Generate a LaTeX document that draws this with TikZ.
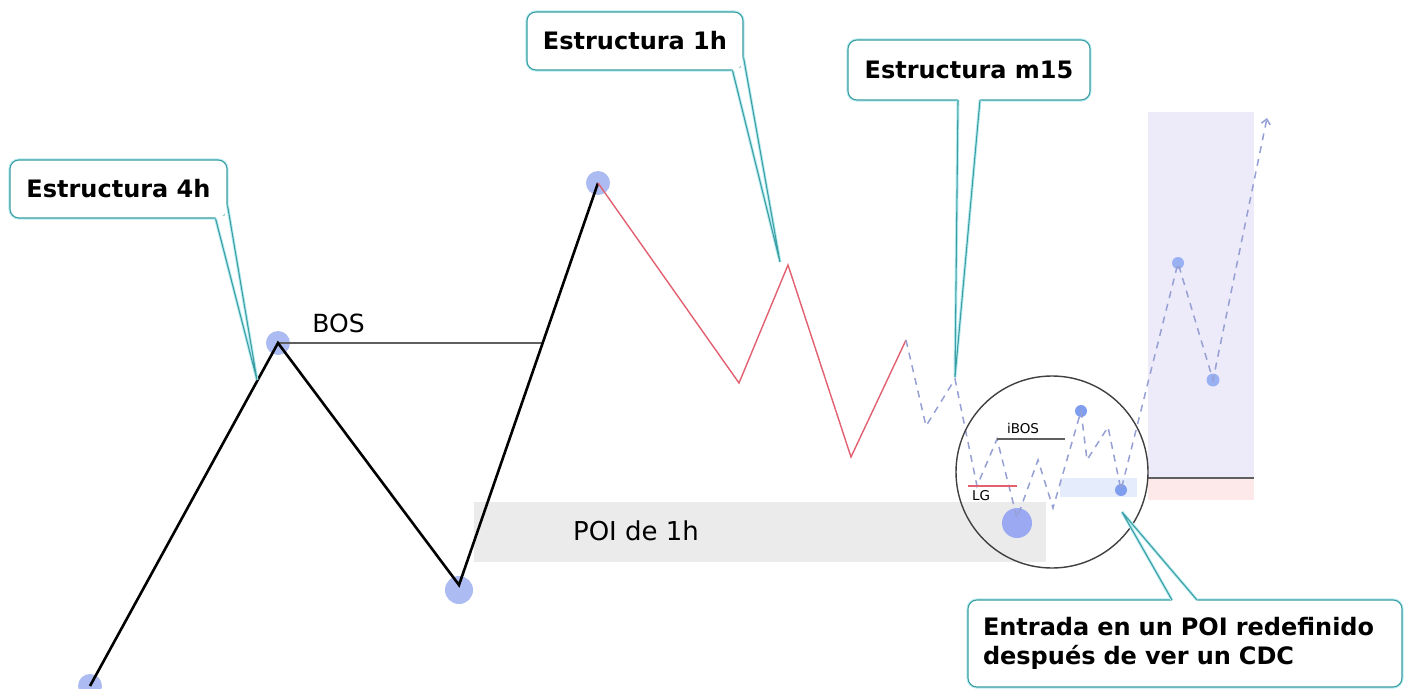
\documentclass[tikz,border=0pt]{standalone}
\usepackage{fontspec}
\setmainfont{DejaVu Sans}
\usetikzlibrary{calc,arrows.meta}
\definecolor{dotc}{RGB}{172,188,242}
\definecolor{dotd}{RGB}{128,158,240}
\definecolor{dashc}{RGB}{150,160,212}
\definecolor{redc}{RGB}{226,96,112}
\definecolor{tealc}{RGB}{58,158,162}
\definecolor{glowc}{RGB}{185,236,242}
\definecolor{poic}{RGB}{235,235,235}
\definecolor{lavc}{RGB}{237,235,249}
\definecolor{pinkc}{RGB}{253,233,233}
\definecolor{lbluec}{RGB}{229,236,252}
\definecolor{levc}{RGB}{95,95,95}
\begin{document}
\begin{tikzpicture}[x=1pt,y=-1pt,
  dotnode/.style={circle,fill=dotc,inner sep=0pt,draw=none},
  dotdark/.style={circle,fill=dotd,inner sep=0pt,draw=none},
  blackline/.style={line width=2.6pt,black,line join=miter},
  redline/.style={line width=1.4pt,redc},
  dashline/.style={line width=1.5pt,dashc,dash pattern=on 7pt off 6pt},
  levelline/.style={line width=1.3pt,levc},
  calloutbox/.style={draw=tealc,line width=1.1pt,fill=white,rounded corners=9pt,
     preaction={draw=glowc,line width=3.2pt},inner sep=0pt,
     font=\fontsize{24}{29}\selectfont\bfseries},
  pointer/.style={draw=tealc,line width=1.1pt,preaction={draw=glowc,line width=3pt}},
  lbl/.style={inner sep=0pt,font=\fontsize{25}{30}\selectfont},
  smalllbl/.style={inner sep=0pt,font=\fontsize{13.5}{16}\selectfont}
]
\useasboundingbox (0,0) rectangle (1408,688);
\fill[white] (0,0) rectangle (1408,688);

% right zones
\fill[lavc] (1148,112) rectangle (1254,478);
\fill[pinkc] (1148,478) rectangle (1254,500);
\draw[levelline] (1148,478) -- (1254,478);

% POI zone
\node[fill=poic,minimum width=572pt,minimum height=60pt,inner sep=0pt] (poi) at (760,532) {};
\node[lbl,font=\fontsize{26}{30}\selectfont] (poitxt) at (636,531) {POI de 1h};
\node[fill=lbluec,minimum width=77pt,minimum height=19pt,inner sep=0pt] (rpoi) at (1098.5,487.5) {};

% structure points
\coordinate (b0) at (90,686);
\coordinate (b1) at (278,343);
\coordinate (b2) at (459,585);
\coordinate (b3) at (598,183);
\coordinate (bosend) at (543,343);
\coordinate (r1) at (739,383);
\coordinate (r2) at (788,265);
\coordinate (r3) at (851,457);
\coordinate (r4) at (906,340);
\coordinate (d1) at (926,426);
\coordinate (d2) at (955,379);
\coordinate (d3) at (977,486);
\coordinate (d4) at (997,439);
\coordinate (d5) at (1017,518);
\coordinate (d6) at (1038,460);
\coordinate (d7) at (1053,508);
\coordinate (d8) at (1081,411);
\coordinate (d9) at (1087,460);
\coordinate (d10) at (1108,427);
\coordinate (d11) at (1121,490);
\coordinate (d12) at (1178,263);
\coordinate (d13) at (1213,380);
\coordinate (d14) at (1267,118);
\coordinate (iboend) at (1065,439);

% dots
\node[dotnode,minimum size=24pt] (nb0) at (b0) {};
\node[dotnode,minimum size=24pt] (nb1) at (b1) {};
\node[dotnode,minimum size=28pt] (nb2) at (459,590) {};
\node[dotnode,minimum size=24pt] (nb3) at (b3) {};
\node[dotnode,fill=dotc!90!blue,minimum size=30pt] (nd5) at (1017,523) {};
\node[dotdark,minimum size=12pt] (nd8) at (d8) {};
\node[dotdark,minimum size=12pt] (nd11) at (d11) {};
\node[dotnode,fill=dotd!80!white,minimum size=12pt] (nd12) at (d12) {};
\node[dotnode,fill=dotd!80!white,minimum size=13pt] (nd13) at (d13) {};

% BOS
\draw[levelline] (b1) -- (bosend);
\node[lbl] (bostxt) at (338.5,323) {BOS};

% price lines
\draw[blackline] (b0) -- (b1) -- (b2) -- (b3);
\draw[redline] (b3) -- (r1) -- (r2) -- (r3) -- (r4);
\draw[dashline,-{Straight Barb[length=5pt,width=9pt]}] (r4) -- (d1) -- (d2) -- (d3) -- (d4) -- (d5) -- (d6) -- (d7) -- (d8) -- (d9) -- (d10) -- (d11) -- (d12) -- (d13) -- (d14);

% zoom circle
\node[circle,draw=black!75,line width=1.4pt,minimum size=192pt,inner sep=0pt] (zoomc) at (1052,472) {};
\draw[levelline] (d4) -- (iboend);
\node[smalllbl] (ibos) at (1023,428) {iBOS};
\draw[line width=1.2pt,redc] (968,486) -- (1017,486);
\node[smalllbl] (lg) at (981,496) {LG};

% callout 4h
\node[calloutbox,minimum width=217pt,minimum height=58pt] (c4) at (118.5,189) {Estructura 4h};
\coordinate (t4) at (257,380);
\coordinate (p4a) at ($(c4.south east)+(-12,0)$);
\coordinate (p4b) at ($(c4.south east)+(0,-13)$);
\fill[white] (p4a) -- (t4) -- (p4b) -- ($(p4b)+(-3,0)$) -- ($(c4.south east)+(-3,-3)$) -- ($(p4a)+(0,-3)$) -- cycle;
\draw[pointer] (p4a) -- (t4) -- (p4b);

% callout 1h
\node[calloutbox,minimum width=216pt,minimum height=58pt] (c1) at (635,41) {Estructura 1h};
\coordinate (t1) at (780,262);
\coordinate (p1a) at ($(c1.south east)+(-11,0)$);
\coordinate (p1b) at ($(c1.south east)+(0,-13)$);
\fill[white] (p1a) -- (t1) -- (p1b) -- ($(p1b)+(-3,0)$) -- ($(c1.south east)+(-3,-3)$) -- ($(p1a)+(0,-3)$) -- cycle;
\draw[pointer] (p1a) -- (t1) -- (p1b);

% callout m15
\node[calloutbox,minimum width=242pt,minimum height=60pt] (c15) at (969,70) {Estructura m15};
\coordinate (t15) at (955,377);
\coordinate (p15a) at (958,100);
\coordinate (p15b) at (980,100);
\fill[white] (p15a) -- (t15) -- (p15b) -- ($(p15b)+(0,-3)$) -- ($(p15a)+(0,-3)$) -- cycle;
\draw[pointer] (p15a) -- (t15) -- (p15b);

% callout entrada
\node[calloutbox,minimum width=434pt,minimum height=87pt,align=left,text width=404pt] (ce) at (1185,643.5) {Entrada en un POI redefinido\\después de ver un CDC};
\coordinate (te) at (1122,512);
\coordinate (pea) at (1172,600);
\coordinate (peb) at (1197,600);
\fill[white] (pea) -- (te) -- (peb) -- ($(peb)+(0,3)$) -- ($(pea)+(0,3)$) -- cycle;
\draw[pointer] (pea) -- (te) -- (peb);
\end{tikzpicture}
\end{document}
